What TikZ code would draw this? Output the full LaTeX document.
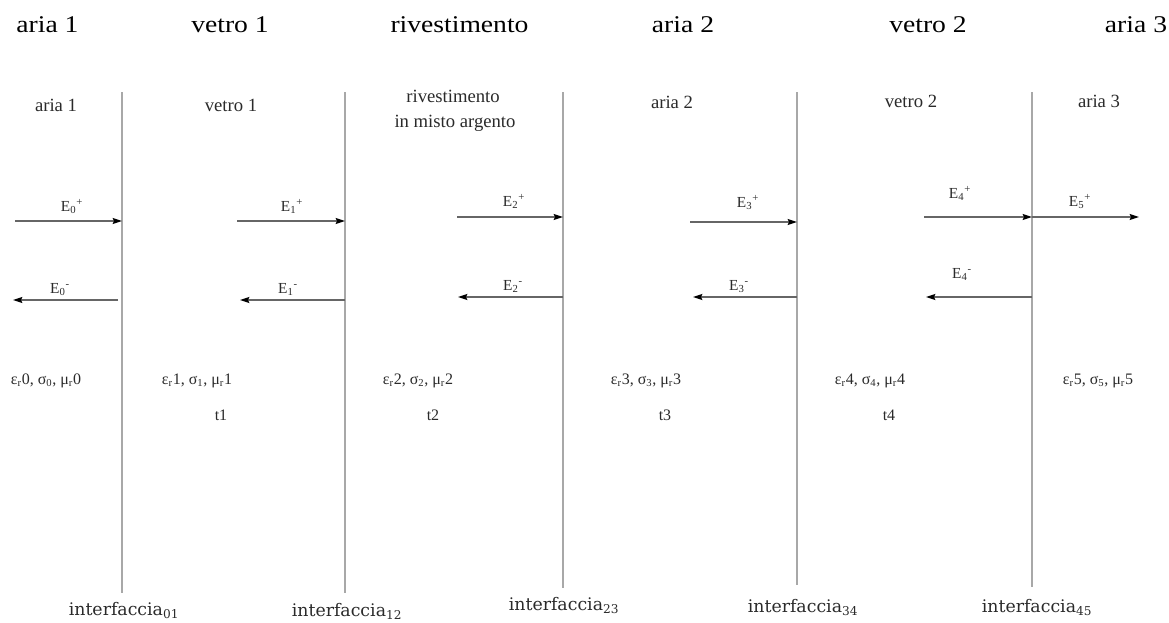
\documentclass[tikz,border=0pt]{standalone}
\usepackage{fontspec}
\setmainfont{Liberation Serif}
\newfontfamily\topfont[FakeStretch=1.15]{Liberation Serif}
\newfontfamily\iffont{DejaVu Serif}
\usetikzlibrary{arrows.meta}
\definecolor{linegray}{HTML}{A8A8A8}
\definecolor{arrgray}{HTML}{666666}
\definecolor{txtgray}{HTML}{2A2A2A}
\begin{document}
\begin{tikzpicture}[x=0.75pt,y=-0.75pt,
  toplbl/.style={anchor=base,inner sep=0pt,font=\topfont\fontsize{18pt}{20pt}\selectfont},
  medlbl/.style={anchor=base,inner sep=0pt,text=txtgray,font=\fontsize{14pt}{16pt}\selectfont},
  elbl/.style={anchor=base,inner sep=0pt,text=txtgray,font=\fontsize{11.5pt}{12pt}\selectfont},
  parlbl/.style={anchor=base,inner sep=0pt,text=txtgray,font=\fontsize{12pt}{14pt}\selectfont},
  iflbl/.style={anchor=base,inner sep=0pt,text=txtgray,font=\iffont\fontsize{13pt}{15pt}\selectfont},
  iface/.style={draw=linegray,line width=1.5pt},
  wave/.style={draw=arrgray,line width=1pt,-{Stealth[length=7pt,width=4.5pt,inset=1pt,color=black,fill=black]}}
]
\useasboundingbox (0,0) rectangle (1169,622);

% top row
\node[toplbl] (ta1) at (47.5,32) {aria 1};
\node[toplbl] (tv1) at (230,32) {vetro 1};
\node[toplbl] (tr) at (459.5,32) {rivestimento};
\node[toplbl] (ta2) at (683,32) {aria 2};
\node[toplbl] (tv2) at (928,32) {vetro 2};
\node[toplbl] (ta3) at (1136,32) {aria 3};

% interfaces
\foreach \n/\x/\yb in {1/122/593, 2/345/593, 3/563/588, 4/797/585, 5/1032/587}{
  \coordinate (it\n) at (\x,92);
  \coordinate (ib\n) at (\x,\yb);
  \draw[iface] (it\n) -- (ib\n);
}

% medium labels
\node[medlbl] (ma1) at (56,111) {aria 1};
\node[medlbl] (mv1) at (231,111) {vetro 1};
\node[medlbl] (mr1) at (453,102) {rivestimento};
\node[medlbl] (mr2) at (455,127) {in misto argento};
\node[medlbl] (ma2) at (672,108) {aria 2};
\node[medlbl] (mv2) at (911,107) {vetro 2};
\node[medlbl] (ma3) at (1099,107) {aria 3};

% wave arrows
\coordinate (a0s) at (15,221);  \coordinate (a0e) at (122,221);
\coordinate (b0s) at (118,300); \coordinate (b0e) at (13,300);
\coordinate (a1s) at (237,221); \coordinate (a1e) at (345,221);
\coordinate (b1s) at (345,300); \coordinate (b1e) at (240,300);
\coordinate (a2s) at (457,217); \coordinate (a2e) at (563,217);
\coordinate (b2s) at (563,297); \coordinate (b2e) at (458,297);
\coordinate (a3s) at (690,222); \coordinate (a3e) at (797,222);
\coordinate (b3s) at (797,297); \coordinate (b3e) at (693,297);
\coordinate (a4s) at (924,217); \coordinate (a4e) at (1032,217);
\coordinate (a5e) at (1139,217);
\coordinate (b4s) at (1032,297); \coordinate (b4e) at (926,297);
\draw[wave] (a0s) -- (a0e);
\draw[wave] (b0s) -- (b0e);
\draw[wave] (a1s) -- (a1e);
\draw[wave] (b1s) -- (b1e);
\draw[wave] (a2s) -- (a2e);
\draw[wave] (b2s) -- (b2e);
\draw[wave] (a3s) -- (a3e);
\draw[wave] (b3s) -- (b3e);
\draw[wave] (a4s) -- (a4e);
\draw[wave] (a4e) -- (a5e);
\draw[wave] (b4s) -- (b4e);

% E labels
\node[elbl] (e0p) at (72,211) {E\textsubscript{0}\textsuperscript{+}};
\node[elbl] (e0m) at (60,293) {E\textsubscript{0}\textsuperscript{-}};
\node[elbl] (e1p) at (292,211) {E\textsubscript{1}\textsuperscript{+}};
\node[elbl] (e1m) at (288,293) {E\textsubscript{1}\textsuperscript{-}};
\node[elbl] (e2p) at (514,206) {E\textsubscript{2}\textsuperscript{+}};
\node[elbl] (e2m) at (513,290) {E\textsubscript{2}\textsuperscript{-}};
\node[elbl] (e3p) at (748,207) {E\textsubscript{3}\textsuperscript{+}};
\node[elbl] (e3m) at (739,290) {E\textsubscript{3}\textsuperscript{-}};
\node[elbl] (e4p) at (960,198) {E\textsubscript{4}\textsuperscript{+}};
\node[elbl] (e5p) at (1080,206) {E\textsubscript{5}\textsuperscript{+}};
\node[elbl] (e4m) at (962,278) {E\textsubscript{4}\textsuperscript{-}};

% parameters
\node[parlbl] (p0) at (46,384) {ε\textsubscript{r}0, σ\textsubscript{0}, μ\textsubscript{r}0};
\node[parlbl] (p1) at (197,384) {ε\textsubscript{r}1, σ\textsubscript{1}, μ\textsubscript{r}1};
\node[parlbl] (t1) at (221,420) {t1};
\node[parlbl] (p2) at (418,384) {ε\textsubscript{r}2, σ\textsubscript{2}, μ\textsubscript{r}2};
\node[parlbl] (t2) at (433,420) {t2};
\node[parlbl] (p3) at (646,384) {ε\textsubscript{r}3, σ\textsubscript{3}, μ\textsubscript{r}3};
\node[parlbl] (t3) at (665,420) {t3};
\node[parlbl] (p4) at (870,384) {ε\textsubscript{r}4, σ\textsubscript{4}, μ\textsubscript{r}4};
\node[parlbl] (t4) at (889,420) {t4};
\node[parlbl] (p5) at (1098,384) {ε\textsubscript{r}5, σ\textsubscript{5}, μ\textsubscript{r}5};

% interface labels
\node[iflbl] (l01) at (124,615) {interfaccia\textsubscript{01}};
\node[iflbl] (l12) at (347,616) {interfaccia\textsubscript{12}};
\node[iflbl] (l23) at (564,610) {interfaccia\textsubscript{23}};
\node[iflbl] (l34) at (803,612) {interfaccia\textsubscript{34}};
\node[iflbl] (l45) at (1037,612) {interfaccia\textsubscript{45}};
\end{tikzpicture}
\end{document}
